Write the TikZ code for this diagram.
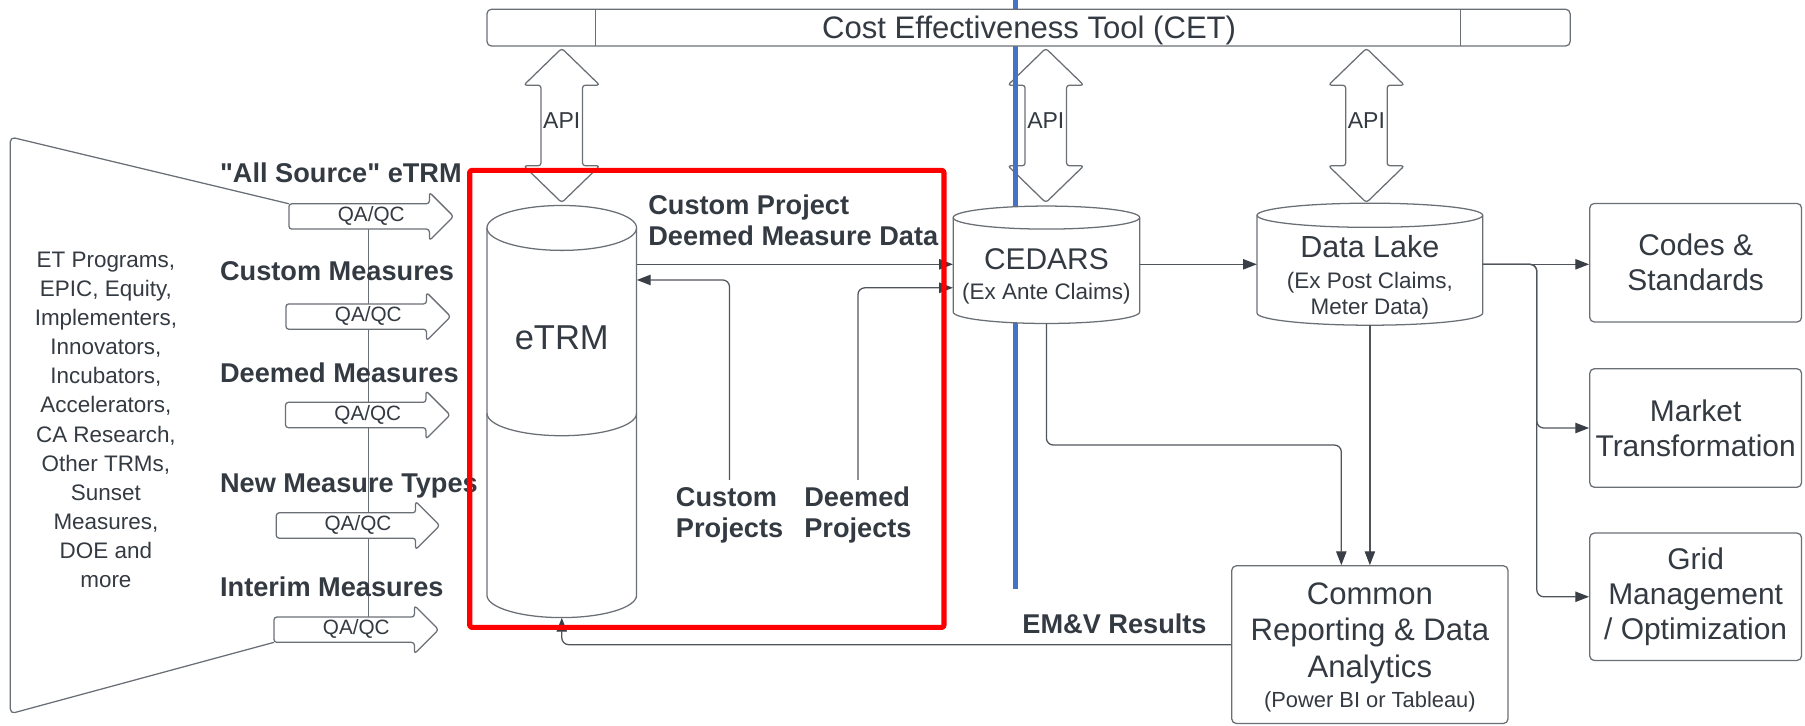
\documentclass[tikz,border=0pt]{standalone}
\usepackage{fontspec}
\setmainfont{Liberation Sans}[Ligatures=TeXOff]
\usetikzlibrary{arrows.meta,calc}
\definecolor{txt}{HTML}{343A42}
\definecolor{edge}{HTML}{6A6F76}
\definecolor{conn}{HTML}{50555C}
\definecolor{tipc}{HTML}{3A3F47}
\definecolor{bluel}{HTML}{4472C4}

% cylinder outline: x1, x2, y of top ellipse centre, y of bottom ellipse centre, y radius
\newcommand\mycyl[5]{%
  \pgfmathsetmacro\cylrx{(#2-#1)/2}%
  \path[outl] (#1,#3) -- (#1,#4) arc[start angle=180,end angle=360,x radius=\cylrx pt,y radius=#5pt]
     -- (#2,#3) arc[start angle=0,end angle=180,x radius=\cylrx pt,y radius=#5pt] -- cycle;
  \draw[edgeline] (#1,#3) arc[start angle=180,end angle=360,x radius=\cylrx pt,y radius=#5pt];
}
% QA/QC block arrow: name, left x, tip x, centre y
\newcommand\qaarrow[4]{%
  \draw[outl, rounded corners=2.5] (#2,#4-11) -- (#3-21,#4-11) -- (#3-21,#4-21) -- (#3,#4)
     -- (#3-21,#4+21) -- (#3-21,#4+11) -- (#2,#4+11) -- cycle;
  \node[qatext] (#1) at ({(#2+#3)/2},#4+4.5) {QA/QC};
}
% API double arrow: name, centre x
\newcommand\apiarrow[2]{%
  \draw[outl, rounded corners=2.5] (#2,42) -- (#2+33,74) -- (#2+18,74) -- (#2+18,144) -- (#2+33,144)
     -- (#2,176) -- (#2-33,144) -- (#2-18,144) -- (#2-18,74) -- (#2-33,74) -- cycle;
  \node[apitext] (#1) at (#2,112) {API};
}

\begin{document}
\begin{tikzpicture}[x=1pt,y=-1pt,line join=round,
  outl/.style={draw=edge, line width=1.1pt, fill=white},
  edgeline/.style={draw=edge, line width=1.1pt},
  link/.style={draw=conn, line width=1.1pt, rounded corners=6,
     -{Triangle[length=12pt,width=9pt,color=tipc]}},
  qatext/.style={inner sep=0pt, anchor=base, text=txt, font=\fontsize{18}{21}\selectfont},
  apitext/.style={inner sep=0pt, anchor=base, text=txt, font=\fontsize{20}{24}\selectfont},
  bl/.style={inner sep=0pt, anchor=base west, text=txt, font=\fontsize{23.6}{27}\selectfont\bfseries},
  plain/.style={inner sep=0pt, anchor=base, text=txt},
  boxs/.style={outl, rounded corners=4, inner sep=0pt, align=center, text=txt,
     minimum width=184, font=\fontsize{26}{30.5}\selectfont},
  ghost/.style={inner sep=0pt, draw=none}]

\useasboundingbox (0,0) rectangle (1568,630);

% API arrows
\apiarrow{apiL}{488}
\apiarrow{apiM}{908.5}
\apiarrow{apiR}{1187}

% blue divider line
\draw[bluel, line width=4.5pt] (882,0) -- (882,512);

% CET bar
\node[outl, rounded corners=4, inner sep=0pt, minimum width=941, minimum height=32] (cet) at (893.5,24) {};
\draw[edgeline] (517,8) -- (517,40);
\draw[edgeline] (1269,8) -- (1269,40);
\node[plain, font=\fontsize{27}{32}\selectfont] (cettxt) at (894,33.7) {Cost Effectiveness Tool (CET)};

% funnel of sources
\coordinate (qa1tl) at (251,177);
\coordinate (qa5bl) at (238,558);
\coordinate (qa1b) at (320,199);
\coordinate (qa5t) at (320,536);
\draw[edgeline, rounded corners=4] (qa1tl) -- (9,119) -- (9,620) -- (qa5bl);
\draw[edgeline] (qa1b) -- (qa5t);
\node[inner sep=0pt, anchor=north, align=center, text=txt, font=\fontsize{19.5}{25.3}\selectfont] (sources) at (92,214.3)
  {\strut ET Programs,\\EPIC, Equity,\\Implementers,\\Innovators,\\Incubators,\\Accelerators,\\CA Research,\\Other TRMs,\\Sunset\\Measures,\\DOE and\\more};

\node[bl] (l1) at (191,158.5) {"All Source" eTRM};
\node[bl] (l2) at (191,244) {Custom Measures};
\node[bl] (l3) at (191,332) {Deemed Measures};
\node[bl] (l4) at (191,428) {New Measure Types};
\node[bl] (l5) at (191,518) {Interim Measures};

\qaarrow{qa1}{251}{394}{188}
\qaarrow{qa2}{248.4}{391.5}{275}
\qaarrow{qa3}{248}{391}{360.5}
\qaarrow{qa4}{240}{382}{456.5}
\qaarrow{qa5}{238}{381}{547}

% eTRM cylinder
\node[ghost, minimum width=130, minimum height=358] (etrm) at (488,357.5) {};
\mycyl{423}{553}{198}{517}{19.5}
\draw[edgeline] (423,359) arc[start angle=180,end angle=360,x radius=65pt,y radius=19.5pt];
\node[plain, font=\fontsize{30}{36}\selectfont] (etrmtxt) at (488,304) {eTRM};

% CEDARS cylinder
\node[ghost, minimum width=162, minimum height=102] (cedars) at (909,230) {};
\mycyl{828}{990}{189}{271}{10}
\node[plain, font=\fontsize{26}{31}\selectfont] (cedtxt) at (909,234.5) {CEDARS};
\node[plain, font=\fontsize{19.5}{23}\selectfont] (cedsub) at (909,260.5) {(Ex Ante Claims)};

% Data Lake cylinder
\node[ghost, minimum width=196, minimum height=106] (lake) at (1190,229.5) {};
\mycyl{1092}{1288}{187}{272}{10.5}
\node[plain, font=\fontsize{26.5}{31}\selectfont] (laketxt) at (1190,224) {Data Lake};
\node[inner sep=0pt, anchor=north, align=center, text=txt, font=\fontsize{19.5}{23}\selectfont] (lakesub) at (1190,233.9)
  {\strut (Ex Post Claims,\\Meter Data)};

% right hand boxes
\node[boxs, minimum height=103] (codes) at (1473,228.2) {Codes \&\\Standards};
\node[boxs, minimum height=103] (market) at (1473,371.8) {Market\\Transformation};
\node[boxs, minimum height=110.7] (grid) at (1473,518.4) {Grid\\Management\\/ Optimization};

% common reporting box
\node[outl, rounded corners=4, inner sep=0pt, minimum width=240, minimum height=137] (common) at (1190,560) {};
\node[inner sep=0pt, anchor=north, align=center, text=txt, font=\fontsize{27}{31.5}\selectfont] (commontxt) at (1190,503)
  {\strut Common\\Reporting \& Data\\Analytics};
\node[plain, font=\fontsize{19}{23}\selectfont] (pbi) at (1190,615) {(Power BI or Tableau)};

% labels in the red box
\node[bl, anchor=north west, align=left] (cpd) at (563,167.5) {\strut Custom Project\\Deemed Measure Data};
\node[bl, anchor=north west, align=left] (cproj) at (587,420.9) {\strut Custom\\Projects};
\node[bl, anchor=north west, align=left] (dproj) at (698.5,420.9) {\strut Deemed\\Projects};
\node[bl] (emv) at (888,550) {EM\&V Results};

% connectors
\coordinate (ya) at (0,229.6);
\coordinate (yb) at (0,243.2);
\coordinate (yc) at (0,250);
\coordinate (split) at (1335,229.6);
\coordinate (bend) at (1165.2,386.6);
\draw[link] (etrm.east |- ya) -- (cedars.west |- ya);
\draw[link, shorten <=4pt] (cproj.north) |- (etrm.east |- yb);
\draw[link, shorten <=4pt] (dproj.north) |- (cedars.west |- yc);
\draw[link] (cedars.east |- ya) -- (lake.west |- ya);
\draw[link] (lake.east |- ya) -- (codes.west |- ya);
\draw[link] (lake.east |- ya) -- (split) |- (market.west);
\draw[link] (lake.east |- ya) -- (split) |- (grid.west);
\draw[link] (cedars.south) |- (bend) -- (common.north -| bend);
\draw[link] (lake.south) -- (common.north);
\draw[link] (common.west) -| (etrm.south);

% highlight
\node[draw=red, line width=4.5pt, rounded corners=2, inner sep=0pt, minimum width=412, minimum height=397] (focus) at (614,346.5) {};
\end{tikzpicture}
\end{document}
